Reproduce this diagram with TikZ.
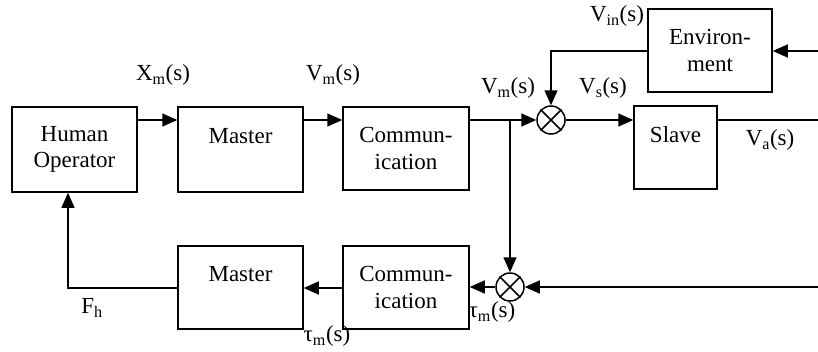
\documentclass[tikz,border=0pt]{standalone}
\usepackage{fontspec}
\setmainfont{Liberation Serif}
\usetikzlibrary{arrows.meta}
\begin{document}
\begin{tikzpicture}[x=1pt,y=-1pt,
  every node/.style={font=\fontsize{23}{26.5}\selectfont},
  blk/.style={draw,line width=1.5pt,inner sep=0pt,align=center},
  sumj/.style={draw,circle,line width=1.5pt,minimum size=28pt,inner sep=0pt},
  arr/.style={line width=1.5pt,-{Triangle[length=15pt,width=13pt]}},
  ln/.style={line width=1.5pt},
  lbl/.style={inner sep=0pt}]
\useasboundingbox (0,0) rectangle (818,351);
% blocks
\node[blk,minimum width=125pt,minimum height=85pt] (HO) at (74.5,149.5) {Human\\Operator};
\node[blk,minimum width=125pt,minimum height=85pt] (M1) at (240.5,149.5) {Master\\\phantom{X}};
\node[blk,minimum width=126pt,minimum height=83pt] (C1) at (406,148.5) {Commun-\\ication};
\node[blk,minimum width=124pt,minimum height=83pt] (EN) at (710,50.5) {Environ-\\ment};
\node[blk,minimum width=83pt,minimum height=83pt] (SL) at (675.5,147.5) {Slave\\\phantom{X}};
\node[blk,minimum width=125pt,minimum height=83pt] (M2) at (240.5,287.5) {Master\\\phantom{X}};
\node[blk,minimum width=126pt,minimum height=83pt] (C2) at (406,287.5) {Commun-\\ication};
% summing junctions
\node[sumj] (J1) at (551,120) {};
\node[sumj] (J2) at (510,287) {};
\foreach \j in {J1,J2}{
  \draw[ln] (\j.45) -- (\j.225);
  \draw[ln] (\j.135) -- (\j.315);
}
% helper coordinates
\coordinate (B) at (510,120);
\coordinate (SLout) at (818,120);
\coordinate (ENin) at (818,51);
\coordinate (ENc) at (551,51);
\coordinate (J2in) at (818,287);
\coordinate (FH) at (68,288);
% connectors
\draw[arr] (HO.east |- B) -- (M1.west |- B);
\draw[arr] (M1.east |- B) -- (C1.west |- B);
\draw[arr] (C1.east |- B) -- (J1.west);
\draw[arr] (B) -- (J2.north);
\draw[arr] (J1.east) -- (SL.west |- J1);
\draw[ln] (SL.east |- J1) -- (SLout);
\draw[arr] (ENin) -- (EN.east |- ENin);
\draw[arr] (EN.west |- ENc) -- (ENc) -- (J1.north);
\draw[arr] (J2in) -- (J2.east);
\draw[arr] (J2.west) -- (C2.east |- J2);
\draw[arr] (C2.west |- FH) -- (M2.east |- FH);
\draw[arr] (M2.west |- FH) -- (FH) -- (FH |- HO.south);
% labels
\node[lbl] at (163,75) {X\textsubscript{m}(s)};
\node[lbl] at (333,75) {V\textsubscript{m}(s)};
\node[lbl] at (508,88) {V\textsubscript{m}(s)};
\node[lbl] at (603,88) {V\textsubscript{s}(s)};
\node[lbl] at (617,16) {V\textsubscript{in}(s)};
\node[lbl] at (770,140) {V\textsubscript{a}(s)};
\node[lbl] at (92,308) {F\textsubscript{h}};
\node[lbl] at (327,336) {τ\textsubscript{m}(s)};
\node[lbl] at (492,312) {τ\textsubscript{m}(s)};
\end{tikzpicture}
\end{document}
